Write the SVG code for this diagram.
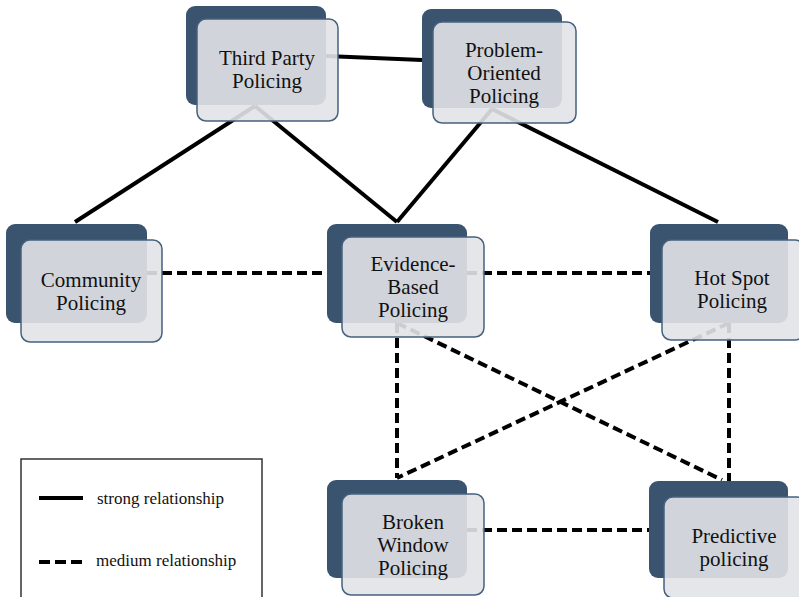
<svg xmlns="http://www.w3.org/2000/svg" width="799" height="597" viewBox="0 0 799 597">
<style>
.back{fill:#3a5470;}
.front{fill:#e2e3e7;fill-opacity:0.9;stroke:#46617f;stroke-width:1.5;}
.lbl{font-family:"Liberation Serif","Times New Roman",serif;font-size:21px;fill:#111111;text-anchor:middle;}
.leg{font-family:"Liberation Serif","Times New Roman",serif;font-size:17px;fill:#111111;}
.strong{stroke:#000;stroke-width:4;fill:none;}
.medium{stroke:#000;stroke-width:4;fill:none;stroke-dasharray:10 5;}
</style>
<rect width="799" height="597" fill="#ffffff"/>
<g id="connectors">
<line class="strong" x1="326" y1="56" x2="422" y2="60"/>
<line class="strong" x1="255" y1="106" x2="75" y2="222"/>
<line class="strong" x1="255" y1="106" x2="397" y2="222"/>
<line class="strong" x1="492" y1="109" x2="397" y2="222"/>
<line class="strong" x1="492" y1="109" x2="718" y2="222"/>
<line class="medium" x1="147" y1="273" x2="327" y2="273"/>
<line class="medium" x1="467" y1="273" x2="650" y2="273"/>
<line class="medium" x1="397" y1="323" x2="397" y2="478"/>
<line class="medium" x1="397" y1="323" x2="722" y2="480"/>
<line class="medium" x1="729" y1="323" x2="397" y2="478"/>
<line class="medium" x1="729" y1="323" x2="729" y2="481"/>
<line class="medium" x1="467" y1="530" x2="649" y2="530"/>
</g>
<g id="third-party">
<rect class="back" x="186" y="6" width="140" height="99" rx="9"/>
<rect class="front" x="197" y="19" width="141" height="102" rx="9"/>
<text class="lbl" x="267" y="65">Third Party</text>
<text class="lbl" x="267" y="88">Policing</text>
</g>
<g id="problem-oriented">
<rect class="back" x="422" y="9" width="140" height="99" rx="9"/>
<rect class="front" x="433" y="22" width="143" height="101" rx="9"/>
<text class="lbl" x="504" y="57">Problem-</text>
<text class="lbl" x="504" y="80">Oriented</text>
<text class="lbl" x="504" y="103">Policing</text>
</g>
<g id="community">
<rect class="back" x="6" y="224" width="141" height="99" rx="9"/>
<rect class="front" x="21" y="240" width="141" height="102" rx="9"/>
<text class="lbl" x="91" y="287">Community</text>
<text class="lbl" x="91" y="310">Policing</text>
</g>
<g id="evidence-based">
<rect class="back" x="327" y="224" width="140" height="99" rx="9"/>
<rect class="front" x="342" y="237" width="142" height="100" rx="9"/>
<text class="lbl" x="413" y="271">Evidence-</text>
<text class="lbl" x="413" y="294">Based</text>
<text class="lbl" x="413" y="317">Policing</text>
</g>
<g id="hot-spot">
<rect class="back" x="650" y="224" width="138" height="99" rx="9"/>
<rect class="front" x="662" y="240" width="142" height="100" rx="9"/>
<text class="lbl" x="732" y="285">Hot Spot</text>
<text class="lbl" x="732" y="308">Policing</text>
</g>
<g id="broken-window">
<rect class="back" x="327" y="480" width="140" height="98" rx="9"/>
<rect class="front" x="342" y="494" width="142" height="101" rx="9"/>
<text class="lbl" x="413" y="529">Broken</text>
<text class="lbl" x="413" y="552">Window</text>
<text class="lbl" x="413" y="575">Policing</text>
</g>
<g id="predictive">
<rect class="back" x="649" y="481" width="139" height="97" rx="9"/>
<rect class="front" x="664" y="497" width="142" height="101" rx="9"/>
<text class="lbl" x="734" y="543">Predictive</text>
<text class="lbl" x="734" y="566">policing</text>
</g>
<g id="legend">
<rect x="21" y="459" width="241" height="150" fill="#ffffff" stroke="#333333" stroke-width="1.5"/>
<line class="strong" x1="39" y1="498" x2="83" y2="498"/>
<text class="leg" x="97" y="504">strong relationship</text>
<line class="medium" x1="39" y1="562" x2="83" y2="562" style="stroke-dasharray:11 5"/>
<text class="leg" x="96" y="566">medium relationship</text>
</g>
</svg>
